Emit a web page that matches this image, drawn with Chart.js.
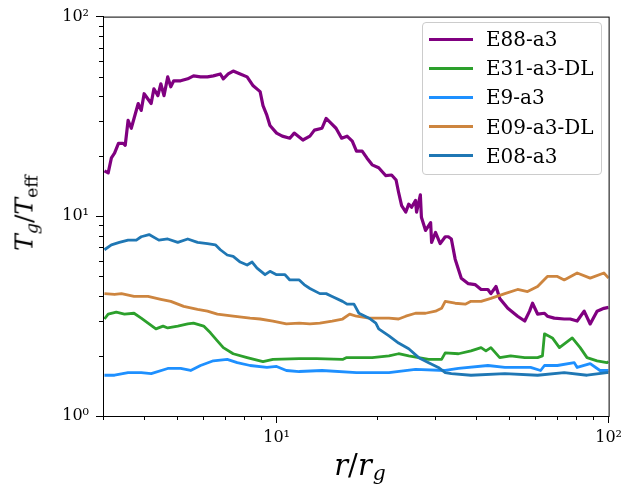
<!DOCTYPE html>
<html>
<head>
<meta charset="utf-8">
<script src="https://cdn.jsdelivr.net/npm/chart.js@4.4.1/dist/chart.umd.min.js"></script>
<style>
    body { margin: 0; background: #fff; }
    #wrap { position: relative; width: 627px; height: 487px; font-family: 'DejaVu Serif', serif; color: #000; }
    #legend { position: absolute; left: 422px; top: 22px; width: 180px; height: 153px; box-sizing: border-box;
              border: 1px solid #cccccc; border-radius: 4px; background: rgba(255,255,255,0.8); }
    .handle { position: absolute; left: 6px; width: 44px; height: 3px; }
    .lbl { position: absolute; left: 63px; font-size: 20px; line-height: 24px; white-space: nowrap; }
    .axis-title { position: absolute; white-space: nowrap; line-height: 1; }
    .axis-title sub { font-size: 0.7em; vertical-align: -0.3em; line-height: 0; }
    #xtitle { left: 360px; top: 465px; font-size: 29px; transform: translate(-50%, -50%); }
    #xtitle sub { margin-left: 1px; vertical-align: -0.25em; }
    #ytitle { left: 24px; top: 213px; font-size: 25px; transform: translate(-50%, -50%) rotate(-90deg); }
</style>
</head>
<body>
<div id="wrap">
    <canvas id="chart"></canvas>
    <div id="legend"></div>
    <div class="axis-title" id="xtitle"><i>r</i>/<i>r</i><sub><i>g</i></sub></div>
    <div class="axis-title" id="ytitle"><i>T</i><sub><i>g</i></sub>/<i>T</i><sub>eff</sub></div>
</div>
<script>
// r/r_g and T_g/T_eff, one pair of arrays per run
const rE88 = [3.03, 3.11, 3.18, 3.25, 3.34, 3.45, 3.50, 3.57, 3.65, 3.72, 3.83, 3.91, 3.99, 4.19, 4.27, 4.39, 4.48, 4.58, 4.70, 4.80,
    4.90, 5.14, 5.40, 5.62, 5.90, 6.19, 6.45, 6.77, 6.91, 7.15, 7.40, 7.77, 8.15, 8.50, 8.92, 9.10, 9.35, 9.55, 10.0, 10.4,
    10.96, 11.3, 12.0, 12.6, 13.0, 13.7, 14.1, 14.6, 15.1, 15.7, 16.3, 16.9, 17.4, 18.1, 18.7, 19.4, 20.3, 21.3, 22.2, 22.9,
    23.3, 23.8, 24.5, 25.0, 25.5, 26.2, 26.4, 27.1, 27.3, 28.1, 29.1, 29.3, 30.1, 31.1, 32.2, 32.9, 33.6, 34.5, 36.0, 37.8,
    39.6, 41.3, 43.3, 44.2, 45.8, 47.0, 49.7, 53.2, 55.9, 57.8, 59.0, 61.1, 64.1, 65.4, 68.6, 73.5, 76.6, 80.4, 84.4, 88.0,
    92.3, 96.8, 100];
const tE88 = [16.9, 16.5, 19.6, 20.7, 23.2, 23.2, 22.7, 30.2, 27.6, 30.9, 36.7, 33.9, 41.1, 36.7, 43.5, 40.2, 46.1, 40.2, 49.9, 44.5,
    47.7, 47.7, 48.8, 50.5, 49.9, 49.9, 50.5, 51.6, 48.8, 51.6, 53.4, 51.6, 49.9, 45.0, 42.1, 35.8, 32.0, 28.5, 26.1, 25.2,
    24.6, 26.1, 24.1, 25.2, 27.0, 27.6, 30.9, 29.2, 27.6, 24.6, 25.2, 23.8, 21.2, 21.2, 19.6, 18.1, 17.5, 16.0, 16.1, 15.2,
    13.2, 11.3, 10.5, 11.5, 11.1, 12.0, 10.5, 12.8, 9.9, 8.5, 9.3, 7.4, 8.3, 7.3, 7.9, 7.9, 7.7, 6.1, 4.9, 4.6,
    4.55, 4.3, 4.3, 4.1, 4.45, 3.88, 3.46, 3.16, 2.99, 3.35, 3.67, 3.24, 3.27, 3.16, 3.09, 3.06, 3.06, 2.99, 3.35, 2.89,
    3.35, 3.46, 3.5];

const rE31 = [3.03, 3.11, 3.29, 3.48, 3.72, 3.91, 4.10, 4.33, 4.55, 4.70, 5.04, 5.40, 5.62, 6.03, 6.32, 6.63, 6.91, 7.40, 8.15, 9.10,
    9.75, 11.7, 13.2, 15.8, 16.2, 19.4, 21.8, 23.3, 25.0, 26.8, 28.7, 31.4, 32.2, 35.3, 38.5, 41.3, 42.7, 44.2, 47.0, 50.7,
    55.9, 61.1, 63.2, 64.1, 67.7, 71.1, 77.7, 82.1, 86.1, 92.3, 98.8, 100];
const tE31 = [3.06, 3.24, 3.31, 3.24, 3.27, 3.09, 2.92, 2.73, 2.82, 2.76, 2.82, 2.89, 2.92, 2.82, 2.61, 2.38, 2.20, 2.05, 1.96, 1.87,
    1.92, 1.94, 1.94, 1.92, 1.96, 1.96, 2.00, 2.05, 2.00, 1.96, 1.92, 1.92, 2.07, 2.05, 2.12, 2.20, 2.12, 2.20, 1.96, 2.00,
    1.96, 1.96, 2.00, 2.58, 2.46, 2.20, 2.46, 2.20, 1.96, 1.89, 1.85, 1.87];

const rE9 = [3.03, 3.25, 3.57, 3.91, 4.19, 4.70, 5.14, 5.51, 5.90, 6.45, 7.10, 7.61, 8.32, 9.35, 10.0, 10.7, 11.7, 13.7, 17.4, 21.8,
    26.2, 32.2, 35.3, 43.3, 48.7, 58.2, 62.4, 64.1, 70.1, 78.8, 80.4, 88.0, 94.2, 100];
const tE9 = [1.60, 1.60, 1.65, 1.65, 1.63, 1.73, 1.73, 1.69, 1.79, 1.89, 1.92, 1.85, 1.79, 1.75, 1.77, 1.69, 1.67, 1.69, 1.65, 1.65,
    1.71, 1.69, 1.73, 1.79, 1.75, 1.75, 1.69, 1.79, 1.79, 1.85, 1.75, 1.83, 1.69, 1.69];

const rE09 = [3.03, 3.25, 3.41, 3.72, 4.10, 4.48, 4.80, 5.25, 5.78, 6.19, 6.63, 7.40, 8.32, 8.92, 9.75, 10.7, 11.7, 12.6, 13.5, 14.7,
    15.8, 16.6, 17.4, 19.0, 21.8, 23.3, 24.5, 26.2, 28.1, 30.1, 31.4, 32.2, 34.5, 37.0, 38.5, 41.3, 44.2, 48.7, 53.2, 57.0,
    61.1, 65.4, 70.1, 73.5, 80.4, 88.0, 96.8, 100];
const tE09 = [4.10, 4.06, 4.10, 3.97, 3.97, 3.84, 3.75, 3.54, 3.42, 3.35, 3.24, 3.16, 3.09, 3.06, 2.99, 2.89, 2.92, 2.89, 2.92, 2.99,
    3.06, 3.24, 3.16, 3.09, 3.09, 3.06, 3.16, 3.27, 3.27, 3.35, 3.46, 3.75, 3.67, 3.63, 3.75, 3.75, 3.88, 4.10, 4.30, 4.20,
    4.45, 5.00, 5.00, 4.80, 5.20, 4.90, 5.20, 4.90];

const rE08 = [3.03, 3.18, 3.36, 3.57, 3.78, 3.91, 4.13, 4.42, 4.70, 5.04, 5.40, 5.78, 6.19, 6.54, 6.77, 7.10, 7.40, 7.77, 8.15, 8.44,
    8.73, 9.23, 9.55, 10.0, 10.6, 10.96, 11.7, 12.1, 12.6, 13.5, 14.1, 14.7, 15.8, 16.3, 17.1, 17.7, 19.0, 19.9, 20.3, 21.8,
    23.3, 25.0, 26.8, 28.7, 30.7, 32.2, 33.6, 38.5, 48.7, 61.1, 73.5, 86.1, 98.8, 100];
const tE08 = [6.8, 7.2, 7.4, 7.6, 7.6, 7.9, 8.1, 7.6, 7.7, 7.4, 7.7, 7.4, 7.3, 7.2, 6.8, 6.4, 6.3, 5.9, 5.7, 5.9,
    5.5, 5.1, 5.3, 5.1, 5.1, 4.8, 4.8, 4.55, 4.35, 4.10, 4.10, 3.97, 3.75, 3.63, 3.63, 3.27, 3.09, 2.92, 2.73, 2.52,
    2.32, 2.17, 1.96, 1.85, 1.75, 1.65, 1.63, 1.60, 1.63, 1.60, 1.65, 1.60, 1.65, 1.65];

const seriesNames = ['E88-a3', 'E31-a3-DL', 'E9-a3', 'E09-a3-DL', 'E08-a3'];
const seriesColors = ['#800080', '#2ca02c', '#1e90ff', '#cd853f', '#1f77b4'];
const seriesR = [rE88, rE31, rE9, rE09, rE08];
const seriesT = [tE88, tE31, tE9, tE09, tE08];

// axis ticks
const xMajor = [10, 100];
const yMajor = [1, 10, 100];
const xMinor = [3, 4, 5, 6, 7, 8, 9, 20, 30, 40, 50, 60, 70, 80, 90];
const yMinor = [2, 3, 4, 5, 6, 7, 8, 9, 20, 30, 40, 50, 60, 70, 80, 90];

const sup = ['\u2070', '\u00b9', '\u00b2'];
function decadeLabel(v) {
    return '10' + sup[Math.round(Math.log10(v))];
}

// legend box (html) in plot order
const legend = document.getElementById('legend');
seriesNames.forEach((name, i) => {
    const cy = 16 + i * 29.2;
    const h = document.createElement('div');
    h.className = 'handle';
    h.style.top = (cy - 1.5) + 'px';
    h.style.background = seriesColors[i];
    legend.appendChild(h);
    const t = document.createElement('div');
    t.className = 'lbl';
    t.style.top = (cy - 12) + 'px';
    t.textContent = name;
    legend.appendChild(t);
});

// frame on all four sides + short minor ticks
const frameAndMinor = {
    id: 'frameAndMinor',
    afterDraw(chart) {
        const { ctx, chartArea: a, scales: { x, y } } = chart;
        ctx.save();
        ctx.strokeStyle = '#000';
        ctx.lineWidth = 1;
        ctx.strokeRect(a.left + 0.5, a.top + 0.5, a.right - a.left, a.bottom - a.top);
        ctx.beginPath();
        xMinor.forEach(v => {
            const px = Math.round(x.getPixelForValue(v)) + 0.5;
            ctx.moveTo(px, a.bottom);
            ctx.lineTo(px, a.bottom + 4);
        });
        yMinor.forEach(v => {
            const py = Math.round(y.getPixelForValue(v)) + 0.5;
            ctx.moveTo(a.left, py);
            ctx.lineTo(a.left - 4, py);
        });
        ctx.stroke();
        ctx.restore();
    }
};

const tickFont = { family: 'DejaVu Serif', size: 16 };

new Chart(document.getElementById('chart'), {
    type: 'line',
    data: {
        datasets: seriesNames.map((name, i) => ({
            label: name,
            data: seriesR[i].map((r, k) => ({ x: r, y: seriesT[i][k] })),
            borderColor: seriesColors[i],
            borderWidth: i === 0 ? 3.2 : 2.8,
            pointRadius: 0,
            tension: 0,
            borderJoinStyle: 'round',
            fill: false,
            order: seriesNames.length - i
        }))
    },
    options: {
        responsive: true,
        maintainAspectRatio: false,
        animation: false,
        layout: { padding: { top: 12, right: 15, left: 0, bottom: 0 } },
        plugins: { legend: { display: false }, tooltip: { enabled: false } },
        scales: {
            x: {
                type: 'logarithmic', min: 3, max: 100,
                afterBuildTicks: s => { s.ticks = xMajor.map(v => ({ value: v })); },
                afterFit: s => { s.height = 71; },
                ticks: { callback: decadeLabel, font: tickFont, color: '#000', padding: 5, maxRotation: 0, autoSkip: false },
                grid: { drawOnChartArea: false, tickLength: 7, tickColor: '#000', tickWidth: 1 },
                border: { color: '#000', width: 1 }
            },
            y: {
                type: 'logarithmic', min: 1, max: 100,
                afterBuildTicks: s => { s.ticks = yMajor.map(v => ({ value: v })); },
                afterFit: s => { s.width = 103; },
                ticks: { callback: decadeLabel, font: tickFont, color: '#000', padding: 7, autoSkip: false },
                grid: { drawOnChartArea: false, tickLength: 7, tickColor: '#000', tickWidth: 1 },
                border: { color: '#000', width: 1 }
            }
        }
    },
    plugins: [frameAndMinor]
});
</script>
</body>
</html>
